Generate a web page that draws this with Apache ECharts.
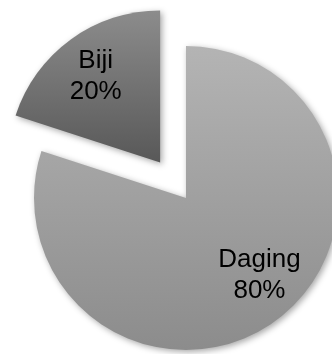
<!DOCTYPE html>
<html>
<head>
<meta charset="utf-8">
<script src="https://cdn.jsdelivr.net/npm/echarts@6/dist/echarts.min.js"></script>
<style>
  html, body { margin: 0; padding: 0; background: #fff; }
  #chart { width: 332px; height: 354px; }
</style>
</head>
<body>
<div id="chart"></div>
<script>
// kategori dan nilai
const names = ['Daging', 'Biji']
const values = [80, 20]
const topColors = ['#b4b4b4', '#8c8c8c']
const bottomColors = ['#8c8c8c', '#585858']
// geser label dari posisi "inside"
const labelShift = [[27, 13], [-18, -22]]

const myChart = echarts.init(document.getElementById('chart'))

const option = {
  animation: false,
  series: [
    {
      type: 'pie',
      center: [186, 198],
      radius: 152,
      startAngle: 90,
      clockwise: true,
      selectedMode: 'single',
      selectedOffset: 44,
      emphasis: { disabled: true },
      itemStyle: {
        shadowBlur: 6,
        shadowOffsetX: 2,
        shadowOffsetY: 2,
        shadowColor: 'rgba(0,0,0,0.35)'
      },
      label: {
        show: true,
        position: 'inside',
        formatter: '{b}\n{d}%',
        color: '#000',
        fontFamily: 'Liberation Sans, Arial, sans-serif',
        fontSize: 26,
        lineHeight: 31,
        align: 'center'
      },
      labelLine: { show: false },
      labelLayout: (p) => ({ dx: labelShift[p.dataIndex][0], dy: labelShift[p.dataIndex][1] }),
      data: names.map((n, i) => ({
        name: n,
        value: values[i],
        selected: i === 1,
        itemStyle: {
          color: new echarts.graphic.LinearGradient(0, 0, 0, 1, [
            { offset: 0, color: topColors[i] },
            { offset: 1, color: bottomColors[i] }
          ])
        }
      }))
    }
  ]
}

myChart.setOption(option)
</script>
</body>
</html>
